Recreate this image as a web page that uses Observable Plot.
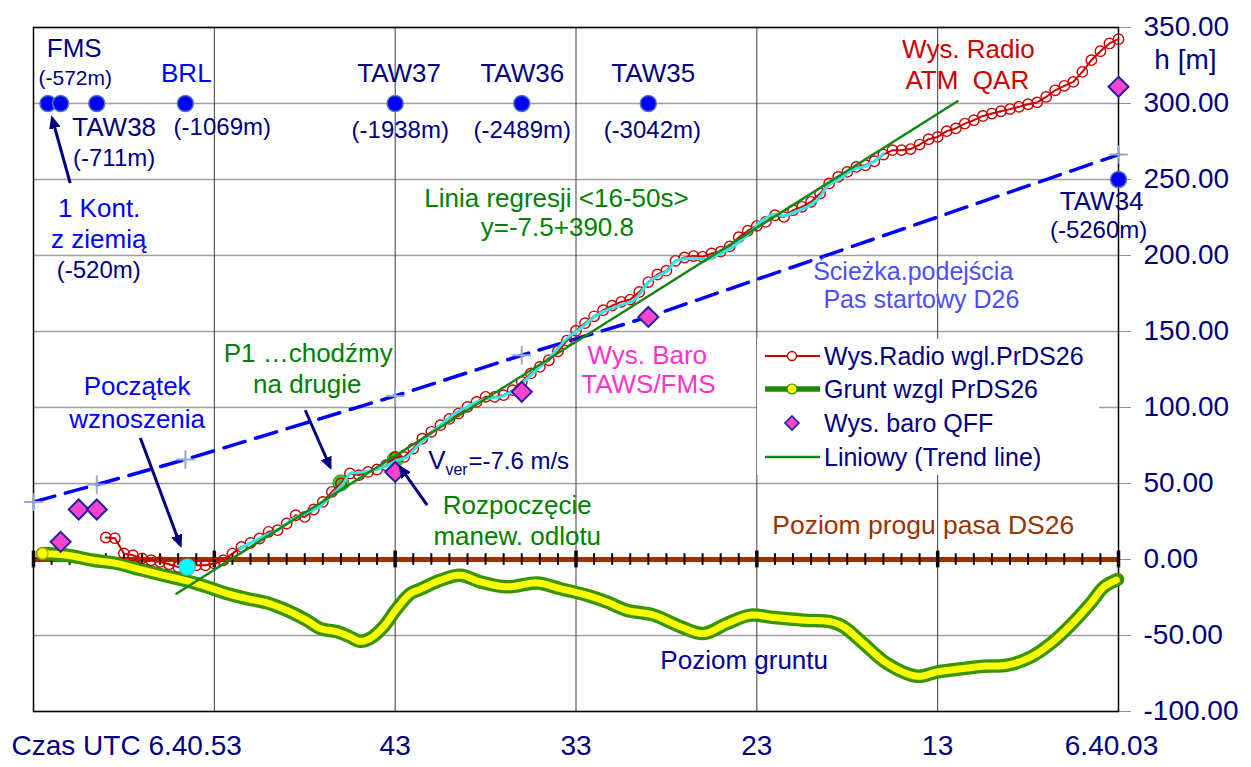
<!DOCTYPE html>
<html><head><meta charset="utf-8">
<script src="https://cdn.jsdelivr.net/npm/d3@7"></script>
<script src="https://cdn.jsdelivr.net/npm/@observablehq/plot@0.6"></script>
<style>
body{margin:0;background:#fff;font-family:"Liberation Sans",Arial,sans-serif;}
#wrap{position:relative;width:1251px;height:767px;overflow:hidden;}
#legend{position:absolute;left:757px;top:339px;width:342px;height:136px;background:#fff;}
#legend .row{position:absolute;left:0;height:30px;display:flex;align-items:center;}
#legend svg{width:60px;height:24px;margin-left:6px;}
#legend span{font-size:25px;color:#000080;margin-left:1px;white-space:nowrap;}
</style></head><body>
<div id="wrap"><div id="legend"></div></div>
<script>
// ---- data (time in seconds after 6:40:00 UTC, height in m) ----
const radioT = [59,58.5,58,57.5,57,56.5,56,55.5,55,54.5,54,53.5,53,52.5,52,51.5,51,50.5,50,49.5,49,48.5,48,47.5,47,46.5,46,45.5,45,44.5,44,43.5,43,42.5,42,41.5,41,40.5,40,39.5,39,38.5,38,37.5,37,36.5,36,35.5,35,34.5,34,33.5,33,32.5,32,31.5,31,30.5,30,29.5,29,28.5,28,27.5,27,26.5,26,25.5,25,24.5,24,23.5,23,22.5,22,21.5,21,20.5,20,19.5,19,18.5,18,17.5,17,16.5,16,15.5,15,14.5,14,13.5,13,12.5,12,11.5,11,10.5,10,9.5,9,8.5,8,7.5,7,6.5,6,5.5,5,4.5,4,3.5,3];
const radioH = [14.5,14,4,2.8,0.7,-0.5,-1.6,-3.1,-4.9,-4.9,-3.8,-3.8,-2.6,-0.5,3.9,8.3,10.9,13.8,18.2,19.3,23.7,29.1,28,32.9,37.9,44.5,50,56.6,55.5,57.6,59.2,62,67.1,67.5,73,79.5,84,88.4,92.5,96,100.4,103.7,107,107,108.1,111.4,116.8,122.4,126.7,131.1,137,144,150.5,155.5,160,164,167,169.5,171,176,182.5,187.5,190,196.5,198.7,199.6,199.1,201.3,202.5,206,212,216.3,219.5,222.1,226.5,225.4,229.8,232,235.3,240.8,247.4,251.7,255,258.3,259.4,262,266.4,269.3,269.3,270,273,276.5,278,281.8,283.6,286.8,289,291.8,293.4,294.9,296.3,297.8,299.5,300.7,304.3,308.7,311.6,314.2,320.8,328.5,334.4,339.5,342.3];

const cyanT = [51.6,50.5,49.5,48.6,47.3,46.6,45.85,45.5,45.1,44.4,43.6,42.9,42.35,41.9,41.2,39.8,38.85,37.9,37.2,36.45,35.7,35.0,34.25,33.5,32.75,32.0,31.3,30.55,29.8,29.45,29.05,28.5,27.9,27.5,26.85,26.2,25.75,25.2,24.65,24.2,23.65,23.0,22.8,22.07,21.52,20.87,20.22,19.67,19.03,18.38,17.65,17.1,16.54,16.0];
const cyanH = [7,14,19.5,27,34,41,50.4,56.6,57,58.3,61,65,67.5,73,81,95,101.5,105.9,107,111.4,119,126.7,135.5,145.4,152,159.6,164,167.3,170.6,175,181.6,186.4,190.3,196.3,198,198,197.4,200.2,203.5,206.8,212.2,219.3,222,227,226,228.7,232,236.4,246.3,250.7,256.8,258.3,261.6,267];

const groundT = [62.5,61.15,59.7,58.4,57.1,55.6,54.5,53.4,52.3,51.2,50.1,49.0,47.9,47.15,46.2,45.5,44.95,44.4,43.65,42.9,42.15,41.6,40.5,39.4,38.3,36.8,35.15,33.9,32.4,31.3,30.2,28.7,27.2,25.95,24.65,23.35,22.05,20.4,18.9,18.2,17.1,15.8,14.15,13.0,11.55,10.45,9.15,7.85,6.75,5.65,4.55,3.8,3.05];
const groundH = [3.9,2.8,-0.5,-2.6,-6.6,-11,-14.1,-18,-22.4,-25.7,-28.5,-33.4,-39.9,-45.4,-47.6,-50.9,-53.8,-52,-44.3,-32.2,-22.4,-19.5,-13.6,-10.3,-14.7,-18,-15.4,-19.1,-23.5,-27.9,-33.4,-36.6,-44.3,-48.7,-42.1,-36.6,-38.2,-39.9,-41,-44.3,-55.3,-68.4,-76.8,-73.9,-71.7,-70.2,-69.5,-64.1,-55.3,-43.2,-28.9,-18,-13.2];

const baroT = [61.5,60.5,59.5,43,36,29,3];
const baroH = [11.6,32.9,32.9,57.6,110.3,159.6,311];

const navT = [62.2,61.5,59.5,54.6,43,36,29,3];
const navH = [300,300,300,300,300,300,300,250];

const pathT = [63,59.5,54.6,43,36,29,3];
const pathH = [37.9,49.3,65.8,107.6,134.4,159.6,266.4];

const trendT = [55.1,11.9];
const trendH = [-22.5,301.5];

const cyanDotT = [54.5], cyanDotH = [-4.9];
const greenDotT = [46.0,43.0], greenDotH = [50.4,65.8];

const yTicks = [-100,-50,0,50,100,150,200,250,300,350];
const gridT = [63,53,43,33,23,13,3];
const xTickT = [43,33,23,13,3];
const xTickLabels = ["43","33","23","13","6.40.03"];

// ---- colours ----
const navy="#000080", blue="#0000ff", green="#008000", red="#cc0000", pink="#ff33cc", brown="#993300", lblue="#4d4dff";

const zip = (T,H) => T.map((t,i)=>({t, h:H[i]}));
const radio = zip(radioT, radioH), cyan = zip(cyanT, cyanH), ground = zip(groundT, groundH);
const baro = zip(baroT, baroH), nav = zip(navT, navH), path = zip(pathT, pathH), trend = zip(trendT, trendH);
const cyanDot = zip(cyanDotT, cyanDotH), greenDot = zip(greenDotT, greenDotH);
const secTicks = d3.range(3, 64);

// annotations: text, t, h, colour, size, anchor
const notes = [
 ["FMS",60.75,336.4,navy,26],
 ["(-572m)",60.69,316.6,navy,21],
 ["BRL",54.55,319.9,blue,26],
 ["TAW38",58.54,283.8,navy,26],
 ["(-711m)",58.54,264,navy,24],
 ["(-1069m)",52.56,284.4,navy,24],
 ["TAW37",42.78,319.3,navy,26],
 ["(-1938m)",42.72,282.4,navy,24],
 ["TAW36",35.97,319.3,navy,26],
 ["(-2489m)",35.97,282.4,navy,24],
 ["TAW35",28.73,319.9,navy,26],
 ["(-3042m)",28.78,282.4,navy,24],
 ["TAW34",3.93,235.7,navy,26],
 ["(-5260m)",4.1,216.6,navy,24],
 ["1 Kont.",59.37,231,blue,26],
 ["z ziemią",59.39,210.5,blue,26],
 ["(-520m)",59.39,190.3,navy,24],
 ["Linia regresji <16-50s>",34.08,237.7,green,26],
 ["y=-7.5+390.8",34.03,218,green,26],
 ["Ścieżka.podejścia",14.35,189,lblue,25],
 ["Pas startowy D26",13.9,170.6,lblue,25],
 ["Wys. Radio",11.3,335.1,red,26],
 ["ATM\u00a0\u00a0QAR",11.36,315.3,red,26],
 ["Wys. Baro",29.06,134.4,pink,26],
 ["TAWS/FMS",29.0,114.7,pink,26],
 ["P1 …chodźmy",47.81,135.7,green,26],
 ["na drugie",47.86,114.7,green,26],
 ["Początek",57.27,113.4,blue,26],
 ["wznoszenia",57.27,92.3,blue,26],
 ["Rozpoczęcie",36.25,35.1,green,26],
 ["manew. odlotu",36.25,15.3,green,26],
 ["Poziom progu pasa DS26",13.8,22.6,brown,26.5],
 ["Poziom gruntu",23.7,-66.3,"#000099",26],
 ["V",41.17,64.7,navy,26,"start"],
 ["ver",40.22,59.2,navy,16,"start"],
 ["=-7.6 m/s",38.95,64.7,navy,24,"start"],
 ["h [m]",-0.7,328.5,navy,28],
];
const arrows = [
 {t1:60.97,h1:247.6,t2:61.97,h2:290.3},
 {t1:57.09,h1:80,t2:54.88,h2:9.4},
 {t1:47.97,h1:98.2,t2:46.59,h2:60.7},
 {t1:41.23,h1:35.7,t2:42.72,h2:60.7},
];

const textMarks = notes.map(([text,t,h,c,s,a]) =>
  Plot.text([{t,h}], {x:"t", y:"h", text:()=>text, fill:c, fontSize:s, textAnchor:a||"middle", lineAnchor:"middle"}));
const xLabelMarks = xTickT.map((t,i)=>Plot.text([{t}], {x:"t", y:()=>-122.8, text:()=>xTickLabels[i], fill:navy, fontSize:28, dx: t===3?-7:0}));
xLabelMarks.push(Plot.text([{t:63}], {x:"t", y:()=>-122.8, text:()=>"Czas UTC 6.40.53", fill:navy, fontSize:28, textAnchor:"start", dx:-22}));

const chart = Plot.plot({
  width:1251, height:767,
  marginLeft:33, marginRight:133, marginTop:27, marginBottom:56,
  x:{domain:[63,3], axis:null},
  y:{domain:[-100,350], axis:null},
  style:{fontFamily:"'Liberation Sans', Arial, sans-serif", background:"#fff", overflow:"visible"},
  marks:[
    Plot.ruleY(yTicks, {stroke:"#a0a0a0", strokeWidth:1.3}),
    Plot.ruleX(gridT, {stroke:"#3c3c3c", strokeWidth:1}),
    Plot.axisY({anchor:"right", ticks:yTicks, tickFormat:d=>d.toFixed(2), tickSize:12, tickPadding:13, fontSize:28, stroke:"#909090", fill:navy}),
    Plot.frame({stroke:"#000", strokeWidth:1.5}),
    // approach path
    Plot.line(path, {x:"t", y:"h", stroke:blue, strokeWidth:3.5, strokeDasharray:"22,11"}),
    Plot.dot(path, {x:"t", y:"h", symbol:"plus", r:6, stroke:"#93a9cf", strokeWidth:2}),
    // threshold level with second ticks
    Plot.ruleY([0], {stroke:brown, strokeWidth:5}),
    Plot.ruleX(secTicks, {x:d=>d, y1:-3.8, y2:3.8, stroke:"#000", strokeWidth:2}),
    Plot.ruleX(gridT, {x:d=>d, y1:-5.5, y2:5.5, stroke:"#000", strokeWidth:3.5}),
    // ground
    Plot.line(ground, {x:"t", y:"h", stroke:"#3a9400", strokeWidth:13.5, curve:"catmull-rom", strokeLinecap:"round"}),
    Plot.line(ground, {x:"t", y:"h", stroke:"#ffff00", strokeWidth:7, strokeDasharray:"1,2", curve:"catmull-rom"}),
    Plot.dot(ground.slice(0,1), {x:"t", y:"h", r:5.5, fill:"#ffff00", stroke:"#b8b800"}),
    // special points
    Plot.dot(greenDot, {x:"t", y:"h", r:8, fill:"#33cc33", stroke:"#1a991a", strokeWidth:1}),
    // radio altitude
    Plot.line(radio, {x:"t", y:"h", stroke:red, strokeWidth:2}),
    Plot.dot(radio, {x:"t", y:"h", r:5.2, stroke:red, strokeWidth:1.4, fill:"none"}),
    Plot.line(cyan, {x:"t", y:"h", stroke:"#33e6e6", strokeWidth:3, curve:"catmull-rom"}),
    Plot.dot(cyanDot, {x:"t", y:"h", r:8, fill:"#00ffff", stroke:"#33cccc"}),
    // trend
    Plot.line(trend, {x:"t", y:"h", stroke:"#118811", strokeWidth:2.5}),
    // baro
    Plot.dot(baro, {x:"t", y:"h", symbol:"diamond2", r:9, fill:"#ff44cc", stroke:"#2020a0", strokeWidth:2}),
    // navigation points
    Plot.dot(nav, {x:"t", y:"h", r:8, fill:"#0000ff", stroke:"#5577aa", strokeWidth:1.5}),
    // arrows
    Plot.link(arrows, {x1:"t1", y1:"h1", x2:"t2", y2:"h2", stroke:navy, strokeWidth:3, markerEnd:"arrow"}),
    ...textMarks,
    ...xLabelMarks,
  ]
});
// filled arrow heads
d3.select(chart).selectAll("marker").attr("fill", navy).attr("stroke","none")
  .selectAll("path").attr("d","M-6,-3.3L1.5,0L-6,3.3Z").attr("fill",navy).attr("stroke","none");
document.getElementById("wrap").prepend(chart);

// legend
const rows = [
  {label:"Wys.Radio wgl.PrDS26", sym:`<line x1="2" x2="57" y1="12" y2="12" stroke="${red}" stroke-width="2"/><circle cx="29" cy="12" r="4.5" fill="#fff" stroke="${red}" stroke-width="1.4"/>`},
  {label:"Grunt wzgl PrDS26", sym:`<line x1="2" x2="57" y1="12" y2="12" stroke="#1f8a00" stroke-width="5.5"/><circle cx="29" cy="12" r="5" fill="#ffff00" stroke="#1f8a00" stroke-width="1.2"/>`},
  {label:"Wys. baro QFF", sym:`<path d="M29,5L36,12L29,19L22,12Z" fill="#ff44cc" stroke="#2020a0" stroke-width="1.6"/>`},
  {label:"Liniowy (Trend line)", sym:`<line x1="2" x2="57" y1="12" y2="12" stroke="#118811" stroke-width="2.5"/>`},
];
const tops = [2, 35, 69, 103];
const lg = document.getElementById("legend");
rows.forEach((r,i)=>{
  const d = document.createElement("div");
  d.className="row"; d.style.top = tops[i]+"px";
  d.innerHTML = `<svg viewBox="0 0 60 24">${r.sym}</svg><span>${r.label}</span>`;
  lg.appendChild(d);
});
</script></body></html>
